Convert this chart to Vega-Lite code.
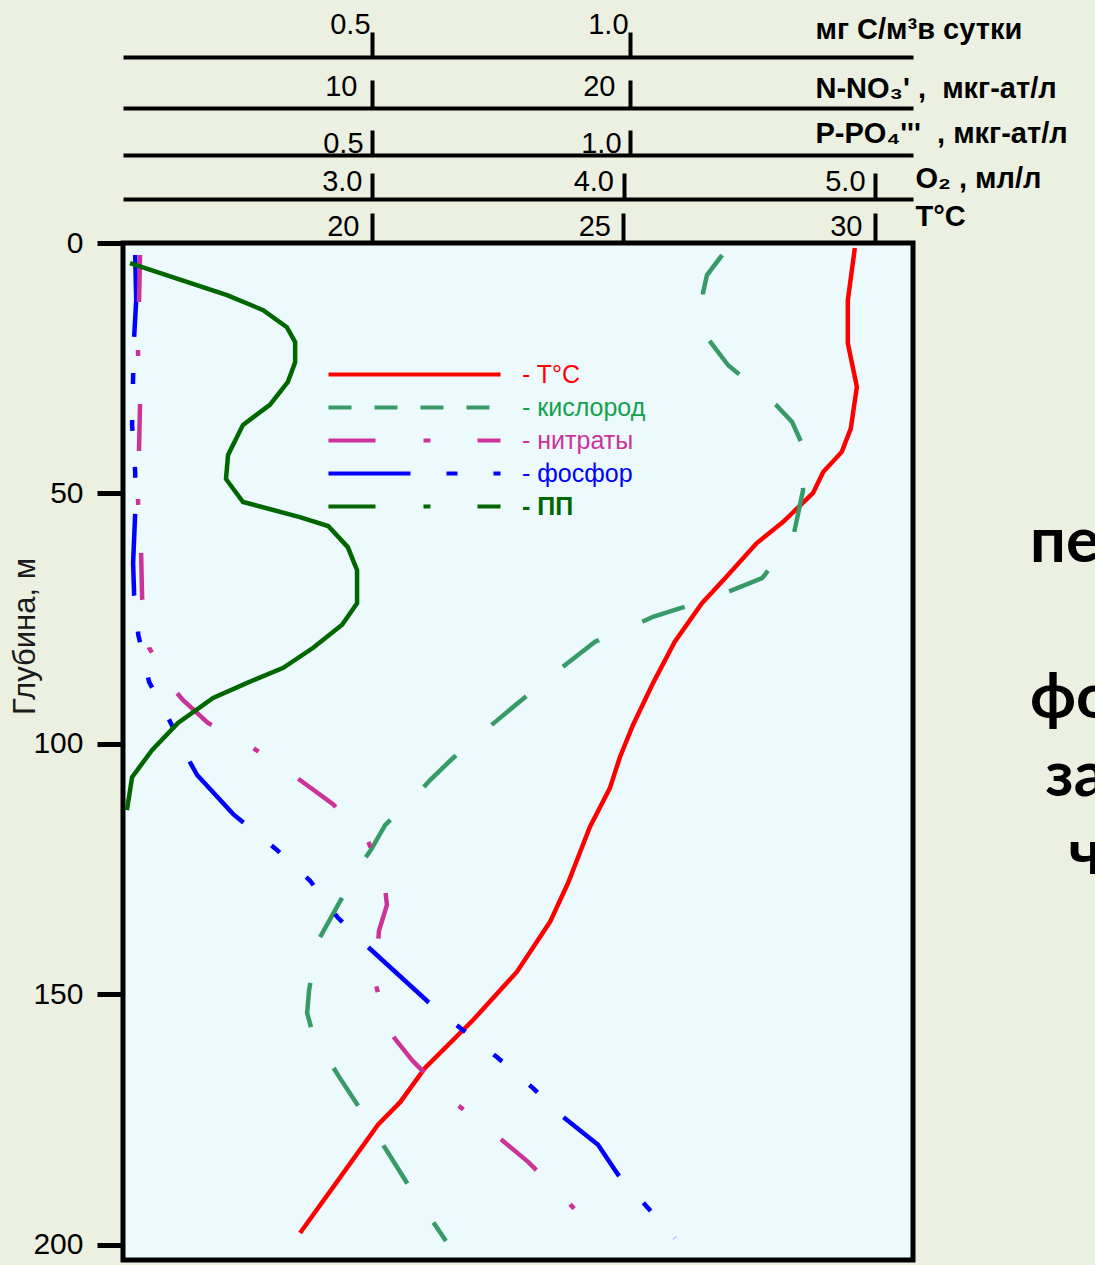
{
  "$schema": "https://vega.github.io/schema/vega-lite/v6.json",
  "width": 790,
  "height": 1017,
  "autosize": {"type": "none"},
  "padding": {"left": 123, "top": 243, "right": 182, "bottom": 5},
  "background": "#ECF0E1",
  "config": {
    "view": {"fill": "#EDFAFD", "stroke": "#000000", "strokeWidth": 5},
    "font": "Liberation Sans",
    "axis": {
      "grid": false,
      "labelFont": "Liberation Sans",
      "titleFont": "Liberation Sans",
      "labelColor": "#000000",
      "titleColor": "#000000",
      "domainColor": "#000000",
      "tickColor": "#000000",
      "labelFlush": false,
      "labelOverlap": false,
      "labelBound": false
    }
  },
  "title": {
    "text": ["\u200bпе", "\u200b", "\u200bфо", "\u200b\u00a0за", "\u200b\u00a0\u00a0\u2009ч"],
    "orient": "none",
    "anchor": "start",
    "frame": "group",
    "align": "left",
    "baseline": "alphabetic",
    "dx": 907,
    "dy": 319,
    "offset": 0,
    "font": "Lato",
    "fontSize": 63,
    "fontWeight": "bold",
    "lineHeight": 78,
    "color": "#000000"
  },
  "data": {
    "values": [
      {"series": "T°C", "depth": 1.0, "value": 29.60},
      {"series": "T°C", "depth": 11.4, "value": 29.46},
      {"series": "T°C", "depth": 20.0, "value": 29.46},
      {"series": "T°C", "depth": 28.7, "value": 29.64},
      {"series": "T°C", "depth": 37.0, "value": 29.52},
      {"series": "T°C", "depth": 41.7, "value": 29.34},
      {"series": "T°C", "depth": 45.7, "value": 28.97},
      {"series": "T°C", "depth": 49.9, "value": 28.77},
      {"series": "T°C", "depth": 55.7, "value": 28.17},
      {"series": "T°C", "depth": 59.9, "value": 27.65},
      {"series": "T°C", "depth": 66.9, "value": 27.02},
      {"series": "T°C", "depth": 71.9, "value": 26.56},
      {"series": "T°C", "depth": 79.6, "value": 26.02},
      {"series": "T°C", "depth": 87.8, "value": 25.59},
      {"series": "T°C", "depth": 96.2, "value": 25.19},
      {"series": "T°C", "depth": 102.6, "value": 24.93},
      {"series": "T°C", "depth": 108.8, "value": 24.73},
      {"series": "T°C", "depth": 116.6, "value": 24.33},
      {"series": "T°C", "depth": 127.7, "value": 23.90},
      {"series": "T°C", "depth": 135.5, "value": 23.54},
      {"series": "T°C", "depth": 145.5, "value": 22.88},
      {"series": "T°C", "depth": 155.1, "value": 22.01},
      {"series": "T°C", "depth": 164.7, "value": 21.05},
      {"series": "T°C", "depth": 171.5, "value": 20.56},
      {"series": "T°C", "depth": 176.0, "value": 20.12},
      {"series": "T°C", "depth": 186.6, "value": 19.36},
      {"series": "T°C", "depth": 197.6, "value": 18.57},

      {"series": "кислород", "depth": 2.4, "value": 4.392},
      {"series": "кислород", "depth": 6.4, "value": 4.332},
      {"series": "кислород", "depth": 10.0, "value": 4.316},
      {"series": "кислород", "depth": 19.4, "value": 4.340},
      {"series": "кислород", "depth": 24.4, "value": 4.416},
      {"series": "кислород", "depth": 26.0, "value": 4.455},
      {"series": "кислород", "depth": 32.3, "value": 4.606},
      {"series": "кислород", "depth": 35.7, "value": 4.670},
      {"series": "кислород", "depth": 39.7, "value": 4.706},
      {"series": "кислород", "depth": 49.3, "value": 4.714},
      {"series": "кислород", "depth": 57.9, "value": 4.678},
      {"series": "кислород", "depth": 65.9, "value": 4.567},
      {"series": "кислород", "depth": 66.9, "value": 4.551},
      {"series": "кислород", "depth": 69.7, "value": 4.412},
      {"series": "кислород", "depth": 72.8, "value": 4.233},
      {"series": "кислород", "depth": 74.6, "value": 4.117},
      {"series": "кислород", "depth": 75.8, "value": 4.066},
      {"series": "кислород", "depth": 79.6, "value": 3.887},
      {"series": "кислород", "depth": 85.0, "value": 3.748},
      {"series": "кислород", "depth": 91.0, "value": 3.600},
      {"series": "кислород", "depth": 96.8, "value": 3.461},
      {"series": "кислород", "depth": 103.0, "value": 3.318},
      {"series": "кислород", "depth": 107.2, "value": 3.231},
      {"series": "кислород", "depth": 109.4, "value": 3.191},
      {"series": "кислород", "depth": 116.2, "value": 3.052},
      {"series": "кислород", "depth": 120.8, "value": 3.000},
      {"series": "кислород", "depth": 123.8, "value": 2.960},
      {"series": "кислород", "depth": 132.1, "value": 2.865},
      {"series": "кислород", "depth": 139.7, "value": 2.781},
      {"series": "кислород", "depth": 149.1, "value": 2.750},
      {"series": "кислород", "depth": 153.7, "value": 2.742},
      {"series": "кислород", "depth": 157.9, "value": 2.765},
      {"series": "кислород", "depth": 166.1, "value": 2.865},
      {"series": "кислород", "depth": 173.7, "value": 2.964},
      {"series": "кислород", "depth": 181.6, "value": 3.064},
      {"series": "кислород", "depth": 189.2, "value": 3.159},
      {"series": "кислород", "depth": 199.2, "value": 3.294},

      {"series": "нитраты", "depth": 2.4, "value": 1.01},
      {"series": "нитраты", "depth": 11.8, "value": 0.97},
      {"series": "нитраты", "depth": 21.8, "value": 0.93},
      {"series": "нитраты", "depth": 31.9, "value": 1.01},
      {"series": "нитраты", "depth": 41.3, "value": 0.97},
      {"series": "нитраты", "depth": 51.3, "value": 0.93},
      {"series": "нитраты", "depth": 61.7, "value": 1.05},
      {"series": "нитраты", "depth": 70.9, "value": 1.09},
      {"series": "нитраты", "depth": 80.8, "value": 1.36},
      {"series": "нитраты", "depth": 89.6, "value": 2.40},
      {"series": "нитраты", "depth": 91.2, "value": 2.67},
      {"series": "нитраты", "depth": 95.8, "value": 3.64},
      {"series": "нитраты", "depth": 100.8, "value": 5.39},
      {"series": "нитраты", "depth": 106.6, "value": 7.05},
      {"series": "нитраты", "depth": 112.0, "value": 8.49},
      {"series": "нитраты", "depth": 119.2, "value": 9.84},
      {"series": "нитраты", "depth": 128.5, "value": 10.50},
      {"series": "нитраты", "depth": 132.1, "value": 10.58},
      {"series": "нитраты", "depth": 137.3, "value": 10.27},
      {"series": "нитраты", "depth": 147.5, "value": 10.12},
      {"series": "нитраты", "depth": 157.1, "value": 10.62},
      {"series": "нитраты", "depth": 163.1, "value": 11.55},
      {"series": "нитраты", "depth": 164.1, "value": 11.74},
      {"series": "нитраты", "depth": 171.3, "value": 13.14},
      {"series": "нитраты", "depth": 177.6, "value": 14.69},
      {"series": "нитраты", "depth": 183.4, "value": 16.05},
      {"series": "нитраты", "depth": 190.8, "value": 17.48},
      {"series": "нитраты", "depth": 198.6, "value": 18.91},

      {"series": "фосфор", "depth": 2.4, "value": 0.041},
      {"series": "фосфор", "depth": 11.4, "value": 0.043},
      {"series": "фосфор", "depth": 18.8, "value": 0.039},
      {"series": "фосфор", "depth": 26.7, "value": 0.037},
      {"series": "фосфор", "depth": 36.3, "value": 0.035},
      {"series": "фосфор", "depth": 45.7, "value": 0.041},
      {"series": "фосфор", "depth": 53.9, "value": 0.041},
      {"series": "фосфор", "depth": 63.9, "value": 0.037},
      {"series": "фосфор", "depth": 70.3, "value": 0.039},
      {"series": "фосфор", "depth": 78.2, "value": 0.047},
      {"series": "фосфор", "depth": 87.6, "value": 0.068},
      {"series": "фосфор", "depth": 95.6, "value": 0.109},
      {"series": "фосфор", "depth": 103.6, "value": 0.147},
      {"series": "фосфор", "depth": 106.2, "value": 0.161},
      {"series": "фосфор", "depth": 114.0, "value": 0.231},
      {"series": "фосфор", "depth": 115.6, "value": 0.250},
      {"series": "фосфор", "depth": 121.0, "value": 0.314},
      {"series": "фосфор", "depth": 127.3, "value": 0.380},
      {"series": "фосфор", "depth": 134.7, "value": 0.434},
      {"series": "фосфор", "depth": 140.5, "value": 0.492},
      {"series": "фосфор", "depth": 151.5, "value": 0.609},
      {"series": "фосфор", "depth": 156.7, "value": 0.671},
      {"series": "фосфор", "depth": 162.5, "value": 0.742},
      {"series": "фосфор", "depth": 168.7, "value": 0.812},
      {"series": "фосфор", "depth": 174.4, "value": 0.870},
      {"series": "фосфор", "depth": 180.0, "value": 0.938},
      {"series": "фосфор", "depth": 186.0, "value": 0.977},
      {"series": "фосфор", "depth": 192.4, "value": 1.033},
      {"series": "фосфор", "depth": 198.6, "value": 1.087},

      {"series": "ПП", "depth": 4.0, "value": 0.031},
      {"series": "ПП", "depth": 10.4, "value": 0.219},
      {"series": "ПП", "depth": 13.4, "value": 0.289},
      {"series": "ПП", "depth": 16.8, "value": 0.335},
      {"series": "ПП", "depth": 19.8, "value": 0.351},
      {"series": "ПП", "depth": 23.8, "value": 0.351},
      {"series": "ПП", "depth": 27.7, "value": 0.337},
      {"series": "ПП", "depth": 32.3, "value": 0.302},
      {"series": "ПП", "depth": 36.3, "value": 0.250},
      {"series": "ПП", "depth": 42.3, "value": 0.221},
      {"series": "ПП", "depth": 47.1, "value": 0.217},
      {"series": "ПП", "depth": 51.7, "value": 0.250},
      {"series": "ПП", "depth": 54.7, "value": 0.360},
      {"series": "ПП", "depth": 56.5, "value": 0.415},
      {"series": "ПП", "depth": 60.7, "value": 0.453},
      {"series": "ПП", "depth": 65.3, "value": 0.471},
      {"series": "ПП", "depth": 71.9, "value": 0.471},
      {"series": "ПП", "depth": 76.2, "value": 0.442},
      {"series": "ПП", "depth": 80.8, "value": 0.386},
      {"series": "ПП", "depth": 84.8, "value": 0.328},
      {"series": "ПП", "depth": 87.8, "value": 0.258},
      {"series": "ПП", "depth": 90.8, "value": 0.192},
      {"series": "ПП", "depth": 95.8, "value": 0.124},
      {"series": "ПП", "depth": 101.2, "value": 0.074},
      {"series": "ПП", "depth": 106.6, "value": 0.035},
      {"series": "ПП", "depth": 113.2, "value": 0.025}
    ]
  },
  "encoding": {
    "y": {
      "field": "depth",
      "type": "quantitative",
      "scale": {"domain": [0, 203], "reverse": true, "nice": false, "zero": false},
      "axis": {
        "values": [0, 50, 100, 150, 200],
        "domain": false,
        "tickSize": 26,
        "tickWidth": 5,
        "labelPadding": 14,
        "labelFontSize": 30,
        "title": "Глубина, м",
        "titleFontSize": 31,
        "titleFontWeight": "normal",
        "titleX": -89,
        "titleY": 393,
        "titleAngle": 270,
        "titleAlign": "center",
        "titleBaseline": "alphabetic",
        "titleColor": "#1a1a1a"
      }
    },
    "order": {"field": "depth", "type": "quantitative"},
    "color": {
      "field": "series",
      "type": "nominal",
      "scale": {
        "domain": ["T°C", "кислород", "нитраты", "фосфор", "ПП"],
        "range": ["#FF0000", "#389A68", "#CC3399", "#0000FF", "#006600"]
      },
      "legend": {
        "orient": "none",
        "legendX": 279,
        "legendY": 119,
        "title": null,
        "padding": 0,
        "symbolType": "M-10,0H10",
        "symbolSize": 296,
        "symbolStrokeWidth": 4,
        "symbolDash": {"expr": "datum.value == 'кислород' ? [23,23] : datum.value == 'нитраты' ? [47,48,7,47] : datum.value == 'фосфор' ? [82,36,11,36] : datum.value == 'ПП' ? [47,48,7,47] : [400,0]"},
        "labelExpr": "'- ' + datum.label",
        "labelFont": "Liberation Sans",
        "labelFontSize": 25,
        "labelColor": {"expr": "datum.value == 'T°C' ? '#FF0000' : datum.value == 'кислород' ? '#14A04C' : datum.value == 'нитраты' ? '#CC3399' : datum.value == 'фосфор' ? '#0000FF' : '#006600'"},
        "labelFontWeight": {"expr": "datum.value == 'ПП' ? 'bold' : 'normal'"},
        "labelOffset": 95,
        "labelLimit": 400,
        "rowPadding": 7
      }
    }
  },
  "layer": [
    {
      "transform": [{"filter": "datum.series == 'T°C'"}],
      "mark": {"type": "line", "strokeWidth": 4.5},
      "encoding": {
        "x": {
          "field": "value", "type": "quantitative",
          "scale": {"domain": [15.05, 30.756], "nice": false, "zero": false},
          "axis": {
            "orient": "top", "offset": 0, "values": [20, 25, 30], "format": "d",
            "domain": false, "tickSize": 30, "tickWidth": 4,
            "labelAlign": "right", "labelBaseline": "alphabetic", "labelPadding": -22, "labelOffset": -13, "labelFontSize": 29,
            "title": "T°C", "titleX": 792, "titleY": -18, "titleAlign": "left", "titleBaseline": "alphabetic",
            "titleAngle": 0, "titleFontSize": 29, "titleFontWeight": "bold"
          }
        }
      }
    },
    {
      "transform": [{"filter": "datum.series == 'кислород'"}],
      "mark": {"type": "line", "strokeWidth": 4.5, "strokeDash": [45, 47]},
      "encoding": {
        "x": {
          "field": "value", "type": "quantitative",
          "scale": {"domain": [2.01, 5.151], "nice": false, "zero": false},
          "axis": {
            "orient": "top", "offset": 44, "values": [3, 4, 5], "format": ".1f",
            "domain": true, "domainWidth": 4, "tickSize": 26, "tickWidth": 4,
            "labelAlign": "right", "labelBaseline": "alphabetic", "labelPadding": -17, "labelOffset": -10, "labelFontSize": 29,
            "title": "O₂ , мл/л", "titleX": 792, "titleY": -12, "titleAlign": "left", "titleBaseline": "alphabetic",
            "titleAngle": 0, "titleFontSize": 29, "titleFontWeight": "bold"
          }
        }
      }
    },
    {
      "transform": [{"filter": "datum.series == 'фосфор'"}],
      "mark": {"type": "line", "strokeWidth": 4.5, "strokeDash": [82, 36, 11, 36, 11, 36, 11, 36]},
      "encoding": {
        "x": {
          "field": "value", "type": "quantitative",
          "scale": {"domain": [0.0174, 1.5484], "nice": false, "zero": false},
          "axis": {
            "orient": "top", "offset": 88, "values": [0.5, 1.0], "format": ".1f",
            "domain": true, "domainWidth": 4, "tickSize": 25, "tickWidth": 4,
            "labelAlign": "right", "labelBaseline": "alphabetic", "labelPadding": -22, "labelOffset": -9, "labelFontSize": 29,
            "title": "P-PO₄'''\u00a0\u00a0, мкг-ат/л", "titleX": 692, "titleY": -13, "titleAlign": "left", "titleBaseline": "alphabetic",
            "titleAngle": 0, "titleFontSize": 29, "titleFontWeight": "bold"
          }
        }
      }
    },
    {
      "transform": [{"filter": "datum.series == 'нитраты'"}],
      "mark": {"type": "line", "strokeWidth": 4.5, "strokeDash": [47, 48, 6, 48]},
      "encoding": {
        "x": {
          "field": "value", "type": "quantitative",
          "scale": {"domain": [0.349, 30.969], "nice": false, "zero": false},
          "axis": {
            "orient": "top", "offset": 135, "values": [10, 20], "format": "d",
            "domain": true, "domainWidth": 4, "tickSize": 28, "tickWidth": 4,
            "labelAlign": "right", "labelBaseline": "alphabetic", "labelPadding": -15, "labelOffset": -15, "labelFontSize": 29,
            "title": "N-NO₃' ,\u00a0\u00a0мкг-ат/л", "titleX": 692, "titleY": -11, "titleAlign": "left", "titleBaseline": "alphabetic",
            "titleAngle": 0, "titleFontSize": 29, "titleFontWeight": "bold"
          }
        }
      }
    },
    {
      "transform": [{"filter": "datum.series == 'ПП'"}],
      "mark": {"type": "line", "strokeWidth": 4.5},
      "encoding": {
        "x": {
          "field": "value", "type": "quantitative",
          "scale": {"domain": [0.0174, 1.5484], "nice": false, "zero": false},
          "axis": {
            "orient": "top", "offset": 186, "values": [0.5, 1.0], "format": ".1f",
            "domain": true, "domainWidth": 4, "tickSize": 25, "tickWidth": 4,
            "labelAlign": "right", "labelBaseline": "alphabetic", "labelPadding": -1, "labelOffset": -2, "labelFontSize": 29,
            "title": "мг С/м³в сутки", "titleX": 692, "titleY": -19, "titleAlign": "left", "titleBaseline": "alphabetic",
            "titleAngle": 0, "titleFontSize": 29, "titleFontWeight": "bold"
          }
        }
      }
    }
  ],
  "resolve": {"scale": {"x": "independent"}, "axis": {"x": "independent"}}
}
